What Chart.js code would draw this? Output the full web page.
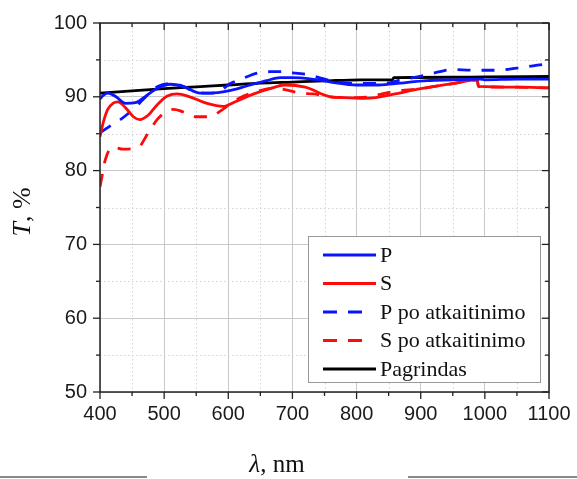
<!DOCTYPE html>
<html lang="lt">
<head>
<meta charset="UTF-8">
<title>Pralaidumo spektrai</title>
<script src="https://cdn.jsdelivr.net/npm/chart.js@4.4.0/dist/chart.umd.min.js"></script>
<style>
    html, body { margin: 0; padding: 0; background: #fff; }
    .graph-container { position: relative; width: 577px; height: 479px; }
</style>
</head>
<body>
<div class="graph-container"><canvas id="myChart"></canvas></div>
<script>
// bangos ilgiai (nm) ir pralaidumas (%) kiekvienai kreivei
const pWl = [400, 405, 412, 425, 440, 455, 470, 490, 510, 530, 556, 571, 600, 630, 660, 681, 700, 730, 760, 800, 830, 860, 910, 950, 993, 1000, 1050, 1100];
const pT  = [89.7, 90.2, 90.5, 90.0, 89.1, 89.2, 90.0, 91.2, 91.7, 91.4, 90.5, 90.5, 90.8, 91.5, 92.2, 92.6, 92.6, 92.4, 92.0, 91.6, 91.6, 91.8, 92.2, 92.3, 92.4, 92.3, 92.4, 92.4];

const sWl = [400, 405, 412, 420, 428, 440, 452, 462, 475, 490, 505, 520, 540, 567, 592, 610, 640, 665, 688, 720, 759, 780, 810, 830, 860, 900, 950, 988, 990, 1050, 1100];
const sT  = [84.6, 86.5, 88.3, 89.1, 89.3, 88.5, 87.3, 86.9, 87.5, 89.0, 90.1, 90.4, 90.0, 89.1, 88.7, 89.3, 90.4, 91.1, 91.6, 91.3, 90.0, 89.9, 89.8, 89.9, 90.4, 91.1, 91.8, 92.3, 91.4, 91.3, 91.2];

const pPoWl = [400, 415, 430, 445, 460, 475, 490, 510, 530, 551, 580, 603, 623, 645, 665, 690, 705, 725, 746, 770, 800, 840, 870, 905, 930, 950, 980, 1020, 1050, 1075, 1100];
const pPoT  = [85.1, 86.0, 86.8, 87.8, 89.0, 90.3, 91.4, 91.8, 91.4, 90.6, 90.5, 91.8, 92.5, 93.2, 93.4, 93.4, 93.2, 93.0, 92.5, 92.0, 91.8, 91.8, 92.3, 92.9, 93.4, 93.7, 93.6, 93.6, 93.9, 94.2, 94.5];

const sPoWl = [400, 404, 408, 420, 436, 460, 475, 489, 500, 515, 528, 548, 570, 590, 610, 640, 673, 692, 712, 732, 760, 800, 820, 840, 857, 900, 950, 988, 990, 1050, 1100];
const sPoT  = [77.8, 79.6, 81.4, 83.2, 82.9, 83.2, 85.1, 86.9, 87.8, 88.3, 88.0, 87.3, 87.3, 88.2, 89.5, 90.6, 91.2, 90.9, 90.5, 90.4, 90.0, 89.9, 90.0, 90.4, 90.7, 91.1, 91.8, 92.3, 91.4, 91.3, 91.2];

const baseWl = [400, 450, 500, 550, 600, 650, 700, 750, 806, 856, 858, 950, 1000, 1100];
const baseT  = [90.5, 90.8, 91.1, 91.35, 91.6, 91.85, 92.0, 92.15, 92.3, 92.3, 92.6, 92.65, 92.7, 92.75];

const seriesLabels = ['P', 'S', 'P po atkaitinimo', 'S po atkaitinimo', 'Pagrindas'];

const xTicks = [400, 500, 600, 700, 800, 900, 1000, 1100];
const yTicks = [50, 60, 70, 80, 90, 100];

function toPoints(wl, t) {
    return wl.map((w, i) => ({ x: w, y: t[i] }));
}

const dash = [13, 11];

function makeSet(label, wl, t, color, dashed) {
    return {
        label: label,
        data: toPoints(wl, t),
        borderColor: color,
        backgroundColor: color,
        borderWidth: 2.8,
        borderDash: dashed ? dash : [],
        pointRadius: 0,
        cubicInterpolationMode: 'monotone',
        fill: false
    };
}

const ctx = document.getElementById('myChart').getContext('2d');

// smulkus taškinis tinklelis, padalos ir rėmelis
const framePlugin = {
    id: 'frame',
    beforeDatasetsDraw(chart) {
        const c = chart.ctx, a = chart.chartArea;
        const xs = chart.scales.x, ys = chart.scales.y;
        c.save();
        c.strokeStyle = '#d4d4d4';
        c.lineWidth = 1;
        c.setLineDash([1.5, 2.5]);
        for (let v = 450; v < 1100; v += 100) {
            const px = Math.round(xs.getPixelForValue(v)) + 0.5;
            c.beginPath(); c.moveTo(px, a.top); c.lineTo(px, a.bottom); c.stroke();
        }
        for (let v = 55; v < 100; v += 10) {
            const py = Math.round(ys.getPixelForValue(v)) + 0.5;
            c.beginPath(); c.moveTo(a.left, py); c.lineTo(a.right, py); c.stroke();
        }
        c.restore();
    },
    afterDatasetsDraw(chart) {
        const c = chart.ctx, a = chart.chartArea;
        const xs = chart.scales.x, ys = chart.scales.y;
        c.save();
        c.strokeStyle = '#222';
        c.lineWidth = 1.5;
        c.strokeRect(a.left, a.top, a.right - a.left, a.bottom - a.top);
        c.lineWidth = 1.3;
        for (let v = 400; v <= 1100; v += 50) {
            const px = xs.getPixelForValue(v);
            const len = v % 100 === 0 ? 7 : 4;
            c.beginPath(); c.moveTo(px, a.bottom); c.lineTo(px, a.bottom + len); c.stroke();
            c.beginPath(); c.moveTo(px, a.top); c.lineTo(px, a.top + len); c.stroke();
        }
        for (let v = 50; v <= 100; v += 5) {
            const py = ys.getPixelForValue(v);
            const len = v % 10 === 0 ? 7 : 4;
            c.beginPath(); c.moveTo(a.left, py); c.lineTo(a.left - len, py); c.stroke();
            c.beginPath(); c.moveTo(a.right, py); c.lineTo(a.right - len, py); c.stroke();
        }
        c.restore();
    }
};

// legenda grafiko viduje
const legendPlugin = {
    id: 'innerLegend',
    afterDraw(chart) {
        const c = chart.ctx;
        const bx = 308, by = 236, bw = 232, bh = 146;
        c.save();
        c.fillStyle = '#fff';
        c.fillRect(bx, by, bw, bh);
        c.strokeStyle = '#999';
        c.lineWidth = 1;
        c.strokeRect(bx + 0.5, by + 0.5, bw, bh);
        c.font = '22px "Liberation Serif", "Times New Roman", serif';
        c.textBaseline = 'middle';
        c.fillStyle = '#111';
        chart.data.datasets.forEach((ds, i) => {
            const y = by + 19 + i * 28.5;
            c.strokeStyle = ds.borderColor;
            c.lineWidth = 2.8;
            c.setLineDash(ds.borderDash.length ? [14, 11] : []);
            c.beginPath(); c.moveTo(323, y); c.lineTo(ds.borderDash.length ? 362 : 376, y); c.stroke();
            c.setLineDash([]);
            c.fillText(ds.label, 380, y + 1);
        });
        c.restore();
    }
};

// ašių pavadinimai su kursyvu
const titlesPlugin = {
    id: 'axisTitles',
    afterDraw(chart) {
        const c = chart.ctx;
        c.save();
        c.fillStyle = '#111';
        c.textBaseline = 'middle';
        // x ašis
        const italic = 'italic 25px "Liberation Serif", "Times New Roman", serif';
        const normal = '25px "Liberation Serif", "Times New Roman", serif';
        c.font = italic;
        const w1 = c.measureText('λ').width;
        c.font = normal;
        const w2 = c.measureText(', nm').width;
        let x0 = 277 - (w1 + w2) / 2;
        c.font = italic; c.fillText('λ', x0, 465);
        c.font = normal; c.fillText(', nm', x0 + w1, 465);
        // y ašis
        c.translate(23, 212);
        c.rotate(-Math.PI / 2);
        const it2 = 'italic 26px "Liberation Serif", "Times New Roman", serif';
        const no2 = '26px "Liberation Serif", "Times New Roman", serif';
        c.font = it2;
        const t1 = c.measureText('T').width;
        c.font = no2;
        const t2 = c.measureText(', %').width;
        x0 = -(t1 + t2) / 2;
        c.font = it2; c.fillText('T', x0, 0);
        c.font = no2; c.fillText(', %', x0 + t1, 0);
        c.restore();
        // pilkos linijos apačioje
        c.save();
        c.strokeStyle = '#8a8a8a';
        c.lineWidth = 2;
        c.beginPath(); c.moveTo(0, 477); c.lineTo(147, 477); c.stroke();
        c.beginPath(); c.moveTo(408, 477); c.lineTo(577, 477); c.stroke();
        c.restore();
    }
};

const tickFont = { family: '"Liberation Sans", Arial, sans-serif', size: 20 };

const chart = new Chart(ctx, {
    type: 'line',
    data: {
        datasets: [
            makeSet(seriesLabels[0], pWl, pT, '#0a14ff', false),
            makeSet(seriesLabels[1], sWl, sT, '#ff0a0a', false),
            makeSet(seriesLabels[2], pPoWl, pPoT, '#0a14ff', true),
            makeSet(seriesLabels[3], sPoWl, sPoT, '#ff0a0a', true),
            makeSet(seriesLabels[4], baseWl, baseT, '#000000', false)
        ]
    },
    options: {
        responsive: true,
        maintainAspectRatio: false,
        animation: false,
        layout: { padding: { top: 23, right: 28, left: 0, bottom: 0 } },
        plugins: {
            legend: { display: false },
            tooltip: { enabled: false }
        },
        scales: {
            x: {
                type: 'linear',
                min: 400,
                max: 1100,
                afterFit: (scale) => { scale.height = 87; scale.paddingRight = 0; scale.paddingLeft = 0; },
                afterBuildTicks: (scale) => { scale.ticks = xTicks.map(v => ({ value: v })); },
                ticks: { font: tickFont, color: '#1a1a1a', padding: 10, maxRotation: 0, callback: (v) => String(v) },
                grid: { color: '#c8c8c8', lineWidth: 1, drawTicks: false },
                border: { display: false }
            },
            y: {
                type: 'linear',
                min: 50,
                max: 100,
                afterFit: (scale) => { scale.width = 100; scale.paddingTop = 0; scale.paddingBottom = 0; },
                afterBuildTicks: (scale) => { scale.ticks = yTicks.map(v => ({ value: v })); },
                ticks: { font: tickFont, color: '#1a1a1a', padding: 13, callback: (v) => String(v) },
                grid: { color: '#c8c8c8', lineWidth: 1, drawTicks: false },
                border: { display: false }
            }
        }
    },
    plugins: [framePlugin, legendPlugin, titlesPlugin]
});
</script>
</body>
</html>
